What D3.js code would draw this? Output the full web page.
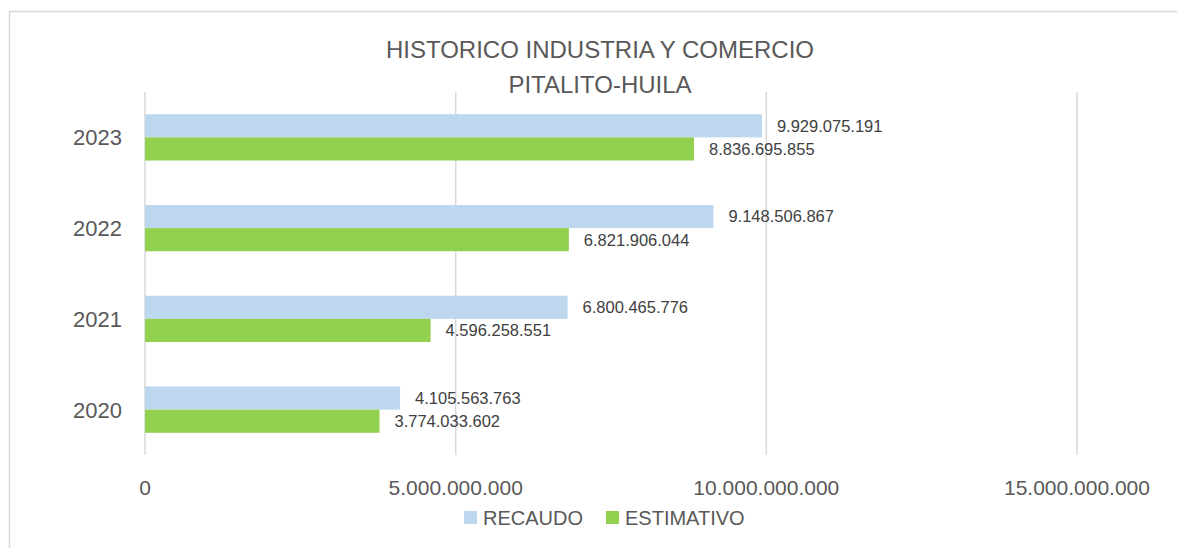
<!DOCTYPE html>
<html>
<head>
<meta charset="utf-8">
<script src="https://cdn.jsdelivr.net/npm/d3@7"></script>
<style>
  body { margin: 0; background: #fff; }
  svg { display: block; }
</style>
</head>
<body>
<script>
// data
var years = ["2023", "2022", "2021", "2020"];
var recaudo = [9929075191, 9148506867, 6800465776, 4105563763];
var estimativo = [8836695855, 6821906044, 4596258551, 3774033602];
var seriesNames = ["RECAUDO", "ESTIMATIVO"];
var xTicks = [0, 5000000000, 10000000000, 15000000000];

var colors = ["#BDD7EE", "#92D050"];
var textColor = "#595959";
var fontFam = "'Liberation Sans', Arial, sans-serif";

var outerWidth = 1177,
    outerHeight = 548;

var plot = { left: 145, right: 1077, top: 92, bottom: 455 };

var svg = d3.select("body")
    .append("svg")
    .attr("width", outerWidth)
    .attr("height", outerHeight);

// chart frame (cropped on right / bottom)
svg.append("path")
    .attr("d", "M9.5," + outerHeight + " V11.5 H" + outerWidth)
    .attr("fill", "none")
    .attr("stroke", "#D9D9D9")
    .attr("stroke-width", 1.5);

var fmt = d3.formatLocale({ decimal: ",", thousands: ".", grouping: [3], currency: ["$", ""] }).format(",d");

var x = d3.scaleLinear()
    .domain([0, 15000000000])
    .range([plot.left, plot.right]);

var y = d3.scaleBand()
    .domain(years)
    .range([plot.top, plot.bottom])
    .paddingInner(0.49)
    .paddingOuter(0.245);

var ySub = d3.scaleBand()
    .domain(seriesNames)
    .range([0, y.bandwidth()]);

// gridlines
svg.append("g")
    .selectAll("line")
    .data(xTicks)
    .enter()
    .append("line")
    .attr("x1", function(d) { return x(d); })
    .attr("x2", function(d) { return x(d); })
    .attr("y1", plot.top)
    .attr("y2", plot.bottom)
    .attr("stroke", "#D9D9D9")
    .attr("stroke-width", 1.5);

// x tick labels
svg.append("g")
    .selectAll("text")
    .data(xTicks)
    .enter()
    .append("text")
    .attr("x", function(d) { return x(d); })
    .attr("y", 495)
    .attr("text-anchor", "middle")
    .attr("font-family", fontFam)
    .attr("font-size", "21px")
    .attr("fill", textColor)
    .text(function(d) { return fmt(d); });

// y labels
svg.append("g")
    .selectAll("text")
    .data(years)
    .enter()
    .append("text")
    .attr("x", 122)
    .attr("y", function(d) { return y(d) + y.bandwidth() / 2; })
    .attr("dy", "0.36em")
    .attr("text-anchor", "end")
    .attr("font-family", fontFam)
    .attr("font-size", "22px")
    .attr("fill", textColor)
    .text(function(d) { return d; });

// bars
var rows = [];
years.forEach(function(yr, i) {
    rows.push({ year: yr, s: "RECAUDO", v: recaudo[i], c: colors[0] });
    rows.push({ year: yr, s: "ESTIMATIVO", v: estimativo[i], c: colors[1] });
});

svg.selectAll(".bar")
    .data(rows)
    .enter()
    .append("rect")
    .attr("class", "bar")
    .attr("x", x(0))
    .attr("y", function(d) { return y(d.year) + ySub(d.s); })
    .attr("width", function(d) { return x(d.v) - x(0); })
    .attr("height", ySub.bandwidth())
    .style("fill", function(d) { return d.c; });

// value labels
svg.selectAll(".val")
    .data(rows)
    .enter()
    .append("text")
    .attr("class", "val")
    .attr("x", function(d) { return x(d.v) + 15; })
    .attr("y", function(d) { return y(d.year) + ySub(d.s) + ySub.bandwidth() / 2; })
    .attr("dy", "0.36em")
    .attr("font-family", fontFam)
    .attr("font-size", "16.5px")
    .attr("fill", "#404040")
    .text(function(d) { return fmt(d.v); });

// title
svg.append("text")
    .attr("x", 600)
    .attr("y", 58)
    .attr("text-anchor", "middle")
    .attr("font-family", fontFam)
    .attr("font-size", "24px")
    .attr("fill", textColor)
    .text("HISTORICO INDUSTRIA Y COMERCIO");

svg.append("text")
    .attr("x", 600)
    .attr("y", 93)
    .attr("text-anchor", "middle")
    .attr("font-family", fontFam)
    .attr("font-size", "24px")
    .attr("fill", textColor)
    .text("PITALITO-HUILA");

// legend
var legX = [464, 606];
seriesNames.forEach(function(name, i) {
    svg.append("rect")
        .attr("x", legX[i])
        .attr("y", 511)
        .attr("width", 13)
        .attr("height", 13)
        .style("fill", colors[i]);
    svg.append("text")
        .attr("x", legX[i] + 19)
        .attr("y", 518)
        .attr("dy", "0.36em")
        .attr("font-family", fontFam)
        .attr("font-size", "20px")
        .attr("fill", textColor)
        .text(name);
});
</script>
</body>
</html>
